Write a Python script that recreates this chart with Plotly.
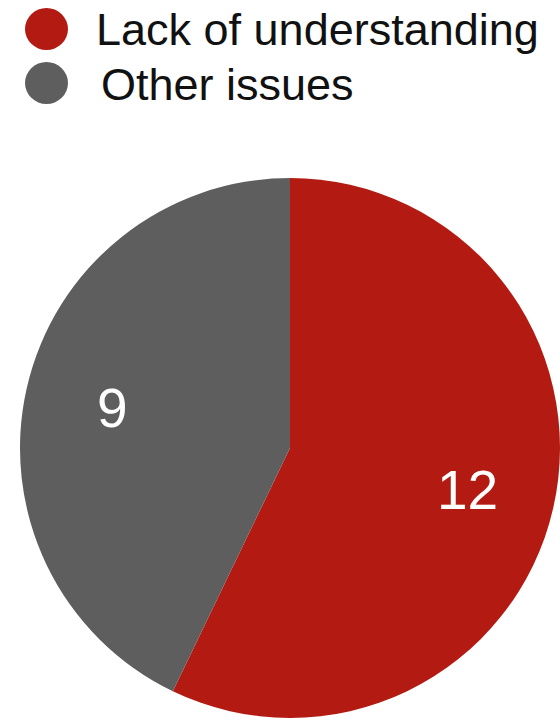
import math
import plotly.graph_objects as go

# Issue breakdown
categories = ["Lack of understanding", "Other issues"]
counts = [12, 9]
colors = ["#b31b12", "#5e5e5e"]

W, H = 560, 718
FONT = "Liberation Sans"

# Pie geometry (pixels): domain square of side 540 at the bottom of the canvas
PIE_LEFT, PIE_SIZE = 20, 540
cx = PIE_LEFT + PIE_SIZE / 2
cy = H - PIE_SIZE / 2
radius = PIE_SIZE / 2

fig = go.Figure(
    go.Pie(
        labels=categories,
        values=counts,
        sort=False,
        direction="clockwise",
        rotation=0,
        marker=dict(colors=colors, line=dict(width=0)),
        textinfo="none",
        domain=dict(x=[PIE_LEFT / W, (PIE_LEFT + PIE_SIZE) / W], y=[0.0, PIE_SIZE / H]),
        showlegend=False,
        hoverinfo="label+value",
    )
)

annotations = []
shapes = []

# Value labels placed along each slice's bisector
total = sum(counts)
start = 0.0
for v in counts:
    frac = v / total
    mid = (start + frac / 2) * 2 * math.pi
    start += frac
    px = cx + 0.675 * radius * math.sin(mid)
    py = cy - 0.675 * radius * math.cos(mid) + 1
    annotations.append(
        dict(
            text=str(v),
            xref="paper", yref="paper",
            x=px / W, y=1 - py / H,
            xanchor="center", yanchor="middle",
            showarrow=False,
            font=dict(family=FONT, size=55, color="white"),
        )
    )

# Custom legend with round swatches
swatch_rows_px = [29, 83]
text_rows_px = [29, 84]
text_left_px = [94, 99]
for cat, col, sy, ty, tx in zip(categories, colors, swatch_rows_px, text_rows_px, text_left_px):
    shapes.append(
        dict(
            type="circle",
            xref="paper", yref="paper",
            xsizemode="pixel", ysizemode="pixel",
            xanchor=46.5 / W, yanchor=1 - sy / H,
            x0=-21.5, x1=21.5, y0=-21, y1=21,
            fillcolor=col, line=dict(width=0),
        )
    )
    annotations.append(
        dict(
            text=cat,
            xref="paper", yref="paper",
            x=tx / W, y=1 - ty / H,
            xanchor="left", yanchor="middle",
            showarrow=False,
            font=dict(family=FONT, size=45, color="#111111"),
        )
    )

fig.update_layout(
    width=W,
    height=H,
    margin=dict(l=0, r=0, t=0, b=0),
    paper_bgcolor="white",
    plot_bgcolor="white",
    shapes=shapes,
    annotations=annotations,
)

fig.write_html("out.html")
